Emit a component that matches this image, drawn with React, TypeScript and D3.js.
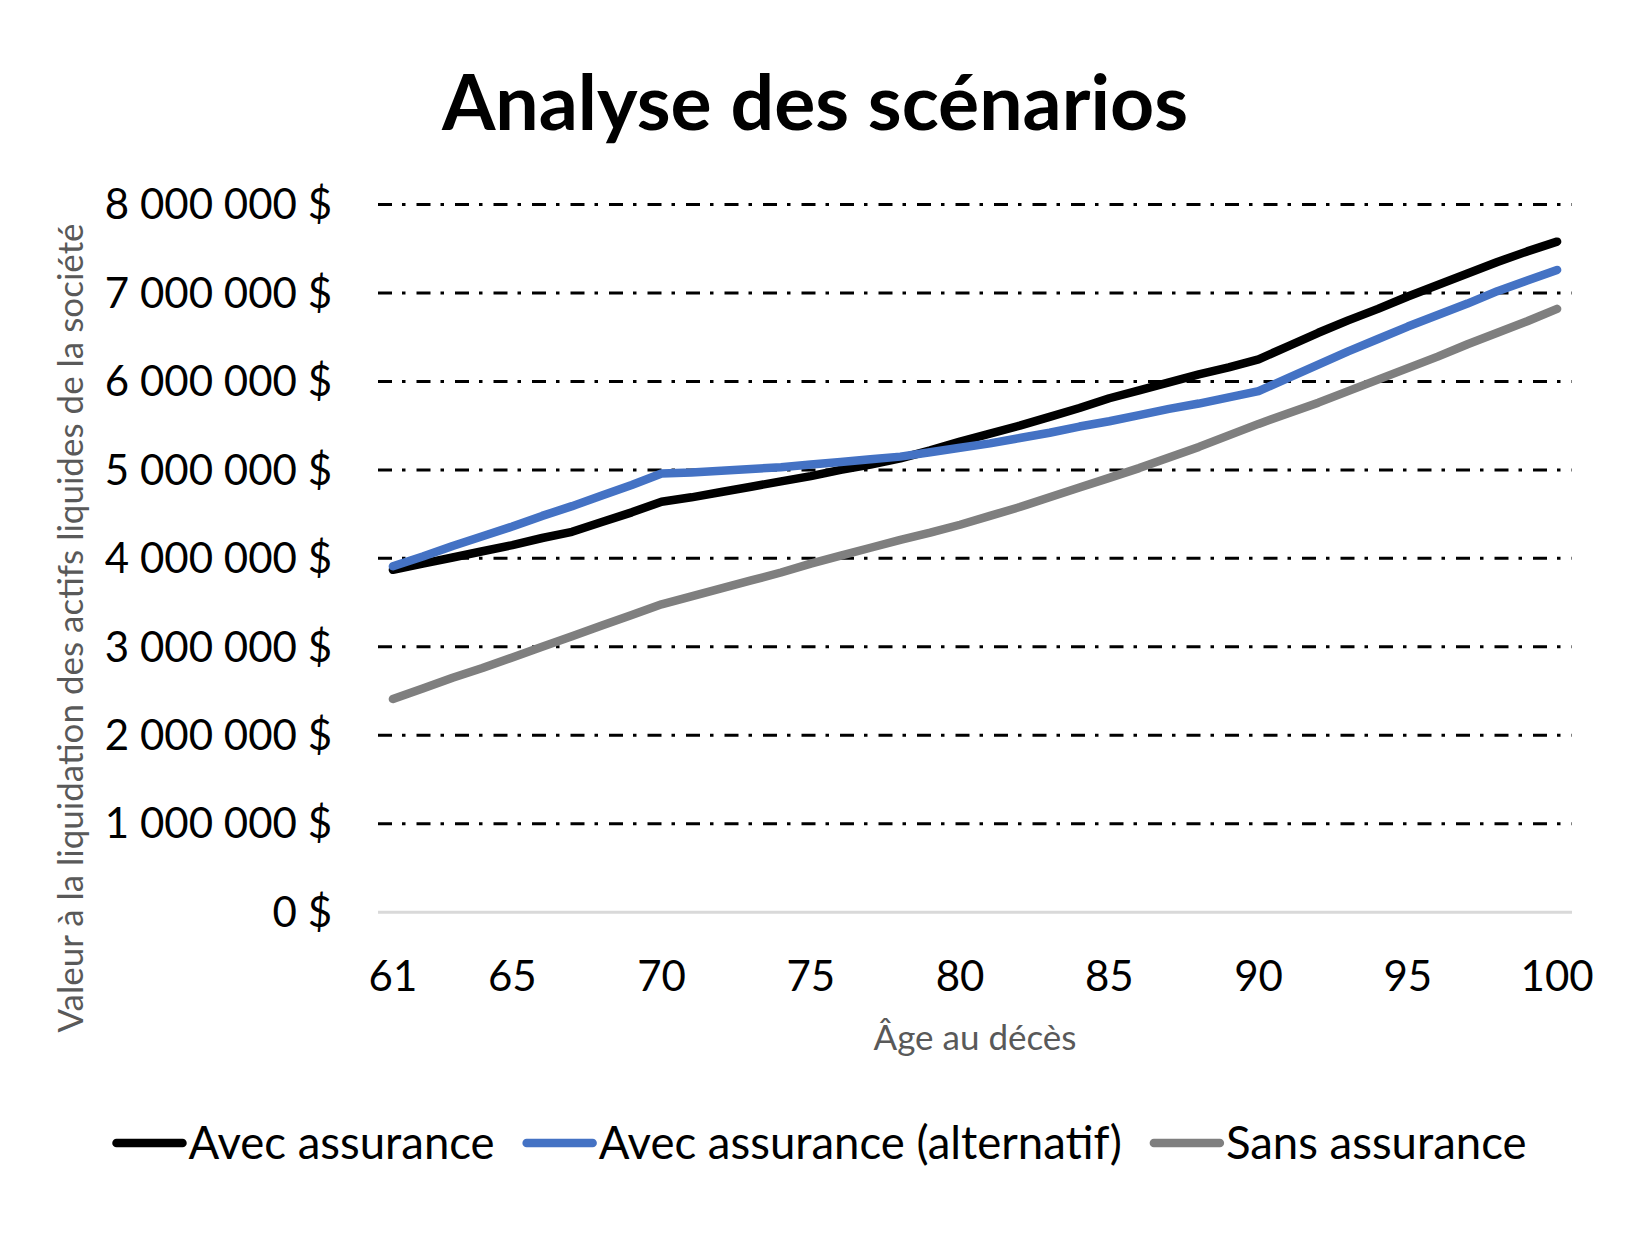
import React, { useEffect, useRef } from "react";
import * as d3 from "d3";

const ages: number[] = d3.range(61, 101);
const xTickLabels: number[] = [61, 65, 70, 75, 80, 85, 90, 95, 100];
const yTicks: number[] = [0, 1e6, 2e6, 3e6, 4e6, 5e6, 6e6, 7e6, 8e6];

// values in millions of dollars, ages 61..100
const avecAssurance: number[] = [
  3.87, 3.94, 4.01, 4.08, 4.15, 4.23, 4.3, 4.41, 4.52, 4.64,
  4.69, 4.75, 4.81, 4.87, 4.93, 5.0, 5.06, 5.13, 5.22, 5.32,
  5.41, 5.5, 5.6, 5.7, 5.81, 5.9, 5.99, 6.08, 6.16, 6.25,
  6.4, 6.55, 6.69, 6.82, 6.96, 7.09, 7.22, 7.35, 7.47, 7.58,
];
const avecAssuranceAlt: number[] = [
  3.91, 4.02, 4.14, 4.25, 4.36, 4.48, 4.59, 4.71, 4.83, 4.96,
  4.97, 4.99, 5.01, 5.03, 5.06, 5.09, 5.12, 5.15, 5.2, 5.25,
  5.3, 5.36, 5.42, 5.49, 5.55, 5.62, 5.69, 5.75, 5.82, 5.89,
  6.04, 6.19, 6.34, 6.48, 6.62, 6.75, 6.88, 7.02, 7.14, 7.26,
];
const sansAssurance: number[] = [
  2.41, 2.53, 2.65, 2.76, 2.88, 3.0, 3.12, 3.24, 3.36, 3.48,
  3.57, 3.66, 3.75, 3.84, 3.94, 4.03, 4.12, 4.21, 4.29, 4.38,
  4.48, 4.58, 4.69, 4.8, 4.91, 5.02, 5.14, 5.26, 5.39, 5.52,
  5.64, 5.76, 5.89, 6.02, 6.15, 6.28, 6.42, 6.55, 6.68, 6.82,
];

const seriesNames: string[] = ["Avec assurance", "Avec assurance (alternatif)", "Sans assurance"];
const seriesColors: string[] = ["#000000", "#4472C4", "#7F7F7F"];
const seriesData: number[][] = [avecAssurance, avecAssuranceAlt, sansAssurance];

const title = "Analyse des scénarios";
const yTitle = "Valeur à la liquidation des actifs liquides de la société";
const xTitle = "Âge au décès";

const W = 1636;
const H = 1235;
const FONT = "Lato, 'Open Sans', sans-serif";

function fmt(v: number): string {
  const s = d3.format(",.0f")(v).replace(/,/g, " ");
  return s + " $";
}

export default function App() {
  const ref = useRef<SVGSVGElement | null>(null);

  useEffect(() => {
    const svg = d3.select(ref.current);
    svg.selectAll("*").remove();

    const left = 378, right = 1572, top = 204.5, bottom = 912.2;
    const x = d3.scalePoint<number>().domain(ages).range([left, right]).padding(0.5);
    const y = d3.scaleLinear().domain([0, 8e6]).range([bottom, top]);

    svg.append("rect").attr("width", W).attr("height", H).attr("fill", "#ffffff");

    // title
    svg.append("text")
      .attr("x", 815).attr("y", 130)
      .attr("text-anchor", "middle")
      .attr("font-family", FONT)
      .attr("font-weight", 700)
      .attr("font-size", 77)
      .attr("fill", "#000")
      .text(title);

    // gridlines
    const g = svg.append("g");
    g.selectAll("line.grid")
      .data(yTicks.filter((t) => t > 0))
      .join("line")
      .attr("x1", left).attr("x2", right)
      .attr("y1", (d) => y(d)).attr("y2", (d) => y(d))
      .attr("stroke", "#000")
      .attr("stroke-width", 3)
      .attr("stroke-dasharray", "14 10 3.5 11");

    // x axis baseline
    g.append("line")
      .attr("x1", left).attr("x2", right)
      .attr("y1", y(0)).attr("y2", y(0))
      .attr("stroke", "#D9D9D9").attr("stroke-width", 3);

    // y tick labels
    g.selectAll("text.ytick")
      .data(yTicks)
      .join("text")
      .attr("x", 332)
      .attr("y", (d) => y(d))
      .attr("dy", "0.35em")
      .attr("text-anchor", "end")
      .attr("font-family", FONT)
      .attr("font-size", 42)
      .attr("fill", "#000")
      .text((d) => fmt(d));

    // x tick labels
    g.selectAll("text.xtick")
      .data(xTickLabels)
      .join("text")
      .attr("x", (d) => x(d) as number)
      .attr("y", 976)
      .attr("dy", "0.35em")
      .attr("text-anchor", "middle")
      .attr("font-family", FONT)
      .attr("font-size", 42)
      .attr("fill", "#000")
      .text((d) => String(d));

    // axis titles
    svg.append("text")
      .attr("x", 975).attr("y", 1038).attr("dy", "0.35em")
      .attr("text-anchor", "middle")
      .attr("font-family", FONT)
      .attr("font-size", 35)
      .attr("fill", "#595959")
      .text(xTitle);

    svg.append("text")
      .attr("transform", `translate(71,628) rotate(-90)`)
      .attr("dy", "0.35em")
      .attr("text-anchor", "middle")
      .attr("font-family", FONT)
      .attr("font-size", 35)
      .attr("fill", "#595959")
      .text(yTitle);

    // lines
    const line = d3.line<number>()
      .x((_, i) => x(ages[i]) as number)
      .y((d) => y(d * 1e6));

    seriesData.forEach((data, i) => {
      svg.append("path")
        .datum(data)
        .attr("d", line)
        .attr("fill", "none")
        .attr("stroke", seriesColors[i])
        .attr("stroke-width", 8.5)
        .attr("stroke-linecap", "round")
        .attr("stroke-linejoin", "round");
    });

    // legend
    const legendY = 1143;
    const lg = svg.append("g");
    const swatchW = 74;
    const gapAfterSwatch = 2;
    const gapBetween = 28;
    const items: { g: any; w: number }[] = [];
    seriesNames.forEach((name, i) => {
      const ig = lg.append("g");
      ig.append("line")
        .attr("x1", 4).attr("x2", swatchW - 4)
        .attr("y1", legendY).attr("y2", legendY)
        .attr("stroke", seriesColors[i])
        .attr("stroke-width", 8.5)
        .attr("stroke-linecap", "round");
      const t = ig.append("text")
        .attr("x", swatchW + gapAfterSwatch)
        .attr("y", legendY)
        .attr("dy", "0.35em")
        .attr("font-family", FONT)
        .attr("font-size", 45.5)
        .attr("fill", "#000")
        .text(name);
      const tw = (t.node() as SVGTextElement).getComputedTextLength();
      items.push({ g: ig, w: swatchW + gapAfterSwatch + tw });
    });
    const total = items.reduce((a, b) => a + b.w, 0) + gapBetween * (items.length - 1);
    let cx = 819.5 - total / 2;
    items.forEach((it) => {
      it.g.attr("transform", `translate(${cx},0)`);
      cx += it.w + gapBetween;
    });
  }, []);

  return (
    <svg
      ref={ref}
      width={W}
      height={H}
      style={{ display: "block", position: "absolute", left: 0, top: 0 }}
    />
  );
}
